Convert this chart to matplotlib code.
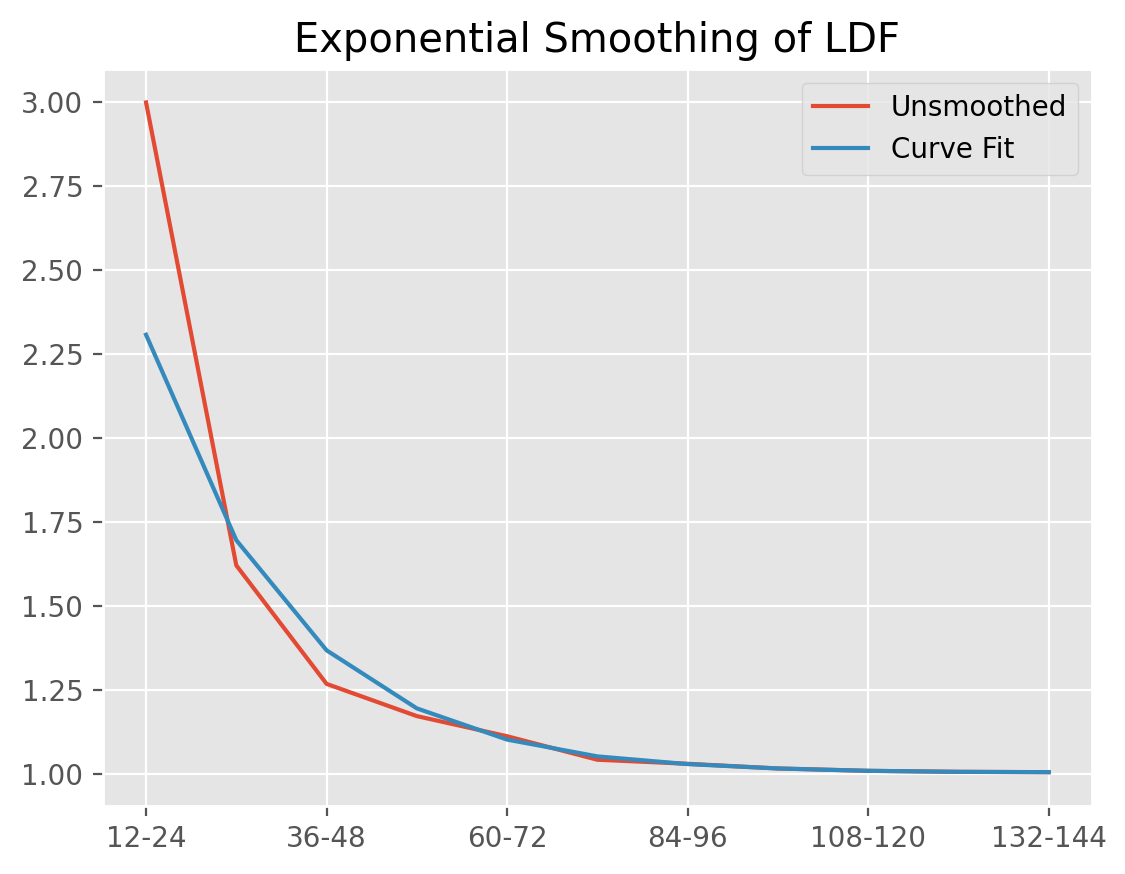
import numpy as np
import matplotlib
matplotlib.use("Agg")
import matplotlib.pyplot as plt

plt.style.use("ggplot")

# development periods (months)
periods = ["12-24", "24-36", "36-48", "48-60", "60-72", "72-84",
           "84-96", "96-108", "108-120", "120-132", "132-144"]
unsmoothed = [3.000, 1.621, 1.268, 1.172, 1.112, 1.042, 1.030, 1.016, 1.009, 1.006, 1.005]
curve_fit = [2.308, 1.696, 1.368, 1.195, 1.102, 1.052, 1.029, 1.016, 1.009, 1.006, 1.005]

x = np.arange(len(periods))

fig = plt.figure(figsize=(1125 / 200, 874 / 200), dpi=200)
ax = fig.add_axes([0.0913, 0.0782, 0.8794, 0.8429])
ax.plot(x, unsmoothed, label="Unsmoothed")
ax.plot(x, curve_fit, label="Curve Fit")
ax.set_xlim(-0.48, 10.48)
ax.set_xticks(x[::2])
ax.set_xticklabels(periods[::2])
ax.set_title("Exponential Smoothing of LDF")
ax.legend(loc="upper right")

fig.savefig("out.png", dpi=200)
plt.close(fig)
